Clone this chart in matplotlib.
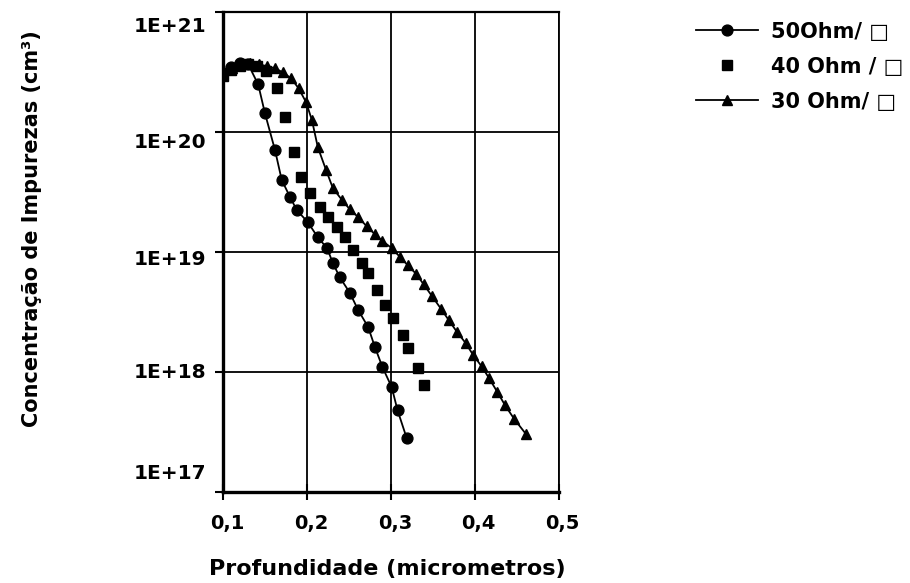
from matplotlib import pyplot as plt
from matplotlib.transforms import ScaledTranslation

# perfis de concentração (x em micrometros, y em cm^-3)
x_50 = [0.100, 0.110, 0.120, 0.130, 0.142, 0.150, 0.162, 0.170, 0.180, 0.188, 0.201, 0.213,
        0.224, 0.231, 0.239, 0.251, 0.261, 0.273, 0.281, 0.290, 0.301, 0.308, 0.319]
y_50 = [3.1e20, 3.5e20, 3.76e20, 3.69e20, 2.5e20, 1.44e20, 7.1e19, 4.0e19, 2.87e19, 2.24e19,
        1.78e19, 1.33e19, 1.08e19, 8.1e18, 6.2e18, 4.6e18, 3.3e18, 2.37e18, 1.62e18, 1.1e18,
        7.5e17, 4.8e17, 2.8e17]

x_40 = [0.100, 0.110, 0.120, 0.130, 0.140, 0.151, 0.164, 0.174, 0.185, 0.193, 0.204, 0.216,
        0.225, 0.236, 0.245, 0.255, 0.266, 0.273, 0.284, 0.293, 0.302, 0.314, 0.321, 0.332, 0.340]
y_40 = [2.93e20, 3.29e20, 3.55e20, 3.69e20, 3.55e20, 3.22e20, 2.33e20, 1.33e20, 6.8e19, 4.2e19,
        3.1e19, 2.37e19, 1.96e19, 1.62e19, 1.33e19, 1.04e19, 8.1e18, 6.7e18, 4.8e18, 3.6e18,
        2.8e18, 2.03e18, 1.58e18, 1.08e18, 7.8e17]

x_30 = [0.100, 0.111, 0.121, 0.132, 0.143, 0.152, 0.162, 0.171, 0.181, 0.190, 0.199, 0.206,
        0.213, 0.223, 0.231, 0.242, 0.251, 0.261, 0.271, 0.281, 0.290, 0.301, 0.311, 0.320,
        0.330, 0.339, 0.349, 0.360, 0.369, 0.379, 0.389, 0.398, 0.408, 0.417, 0.427, 0.436,
        0.447, 0.461]
y_30 = [3.1e20, 3.41e20, 3.69e20, 3.76e20, 3.69e20, 3.55e20, 3.41e20, 3.16e20, 2.82e20, 2.33e20,
        1.78e20, 1.26e20, 7.5e19, 4.8e19, 3.41e19, 2.71e19, 2.28e19, 1.96e19, 1.65e19, 1.41e19,
        1.24e19, 1.08e19, 9.1e18, 7.8e18, 6.6e18, 5.4e18, 4.3e18, 3.35e18, 2.71e18, 2.15e18,
        1.75e18, 1.39e18, 1.12e18, 8.9e17, 6.8e17, 5.3e17, 4.06e17, 3.04e17]

x_ticks = [0.1, 0.2, 0.3, 0.4, 0.5]
x_labels = ['0,1', '0,2', '0,3', '0,4', '0,5']
y_ticks = [1e17, 1e18, 1e19, 1e20, 1e21]
y_labels = ['1E+17', '1E+18', '1E+19', '1E+20', '1E+21']

plt.rcParams['font.family'] = ['DejaVu Sans']
plt.rcParams['font.weight'] = 'bold'

fig = plt.figure(figsize=(9.1, 5.83), dpi=100)
ax = fig.add_axes([0.245, 0.156, 0.369, 0.823])

ax.plot(x_50, y_50, color='black', lw=1.3, marker='o', ms=7.8, label='50Ohm/ \u25a1')
ax.plot(x_40, y_40, color='black', lw=0, marker='s', ms=7, label='40 Ohm / \u25a1')
ax.plot(x_30, y_30, color='black', lw=1.3, marker='^', ms=7.8, label='30 Ohm/ \u25a1')

ax.set_yscale('log')
ax.set_xlim(0.1, 0.5)
ax.set_ylim(1e17, 1e21)
ax.set_xticks(x_ticks)
ax.set_xticklabels(x_labels, fontsize=14, fontweight='bold')
ax.set_yticks(y_ticks)
ax.set_yticklabels(y_labels, fontsize=14.5, fontweight='bold')
ax.minorticks_off()
ax.grid(True, color='black', lw=1.3)

ax.tick_params(axis='y', direction='out', length=6, width=1.5, pad=6)
ax.tick_params(axis='x', direction='inout', length=12, width=1.5, pad=10)

# deslocamento dos rótulos do eixo y como no original
for lab, dy in zip(ax.get_yticklabels(), [21, 2, -5, -8, -12]):
    lab.set_transform(lab.get_transform() + ScaledTranslation(0, dy / 100, fig.dpi_scale_trans))
for lab in ax.get_xticklabels():
    lab.set_transform(lab.get_transform() + ScaledTranslation(0.04, 0, fig.dpi_scale_trans))

ax.spines['left'].set_linewidth(2.4)
ax.spines['bottom'].set_linewidth(2.4)
ax.spines['top'].set_linewidth(1.6)
ax.spines['right'].set_linewidth(1.3)

ax.set_xlabel('Profundidade (micrometros)', fontsize=16, fontweight='bold')
ax.xaxis.set_label_coords(0.49, -0.14)
ax.set_ylabel('Concentração de Impurezas (cm\u00b3)', fontsize=15, fontweight='bold')
ax.yaxis.set_label_coords(-0.54, 0.55)

fig.legend(loc='upper left', bbox_to_anchor=(0.744, 0.995), frameon=False, fontsize=15,
           handlelength=3.0, labelspacing=0.72, handletextpad=0.6)

fig.savefig('out.png', dpi=100)
